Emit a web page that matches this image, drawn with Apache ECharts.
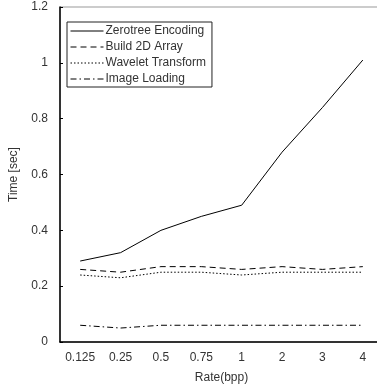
<!DOCTYPE html>
<html>
<head>
<meta charset="utf-8">
<script src="https://cdn.jsdelivr.net/npm/echarts@6/dist/echarts.min.js"></script>
<style>
  html, body { margin: 0; padding: 0; background: #fff; }
  #chart { width: 377px; height: 386px; }
</style>
</head>
<body>
<div id="chart"></div>
<script>
// 데이터
const rates = ["0.125", "0.25", "0.5", "0.75", "1", "2", "3", "4"]
const zerotree = [0.29, 0.32, 0.40, 0.45, 0.49, 0.68, 0.84, 1.01]
const build2d = [0.26, 0.25, 0.27, 0.27, 0.26, 0.27, 0.26, 0.27]
const wavelet = [0.24, 0.23, 0.25, 0.25, 0.24, 0.25, 0.25, 0.25]
const imageLoading = [0.06, 0.05, 0.06, 0.06, 0.06, 0.06, 0.06, 0.06]

const font = "Liberation Sans, Arial, sans-serif"
const chart = echarts.init(document.getElementById("chart"))

const mkLine = (name, data, dash) => ({
  name,
  type: "line",
  data,
  symbol: "none",
  animation: false,
  lineStyle: { color: "#000", width: 1, type: dash },
  itemStyle: { color: "#000" },
})

chart.setOption({
  animation: false,
  textStyle: { fontFamily: font },
  grid: {
    left: 60,
    top: 7,
    width: 323,
    height: 335,
    outerBoundsMode: "none",
    show: true,
    borderColor: "#999",
    borderWidth: 1,
  },
  legend: {
    orient: "vertical",
    left: 67,
    top: 22,
    padding: [3, 6, 2, 3],
    itemGap: 4,
    itemWidth: 33,
    itemHeight: 12,
    itemStyle: { opacity: 0 },
    lineStyle: { width: 1 },
    borderColor: "#222",
    borderWidth: 1,
    borderRadius: 0,
    textStyle: { fontSize: 12, color: "#333", fontFamily: font, padding: [0, 0, 0, -3] },
  },
  xAxis: {
    type: "category",
    data: rates,
    name: "Rate(bpp)",
    nameLocation: "middle",
    nameGap: 30,
    nameTextStyle: { fontSize: 12, color: "#333" },
    axisLine: { lineStyle: { color: "#000", width: 1.5 } },
    axisTick: { inside: true, length: 4, lineStyle: { color: "#000" } },
    axisLabel: { fontSize: 12, color: "#333", margin: 10 },
  },
  yAxis: {
    type: "value",
    min: 0,
    max: 1.2,
    interval: 0.2,
    name: "Time [sec]",
    nameLocation: "middle",
    nameGap: 40,
    nameTextStyle: { fontSize: 12, color: "#333" },
    axisLine: { show: true, lineStyle: { color: "#000", width: 1.5 } },
    axisTick: { show: true, inside: true, length: 3, lineStyle: { color: "#000" } },
    axisLabel: { fontSize: 12, color: "#333", margin: 12 },
    splitLine: { show: false },
  },
  series: [
    mkLine("Zerotree Encoding", zerotree, "solid"),
    mkLine("Build 2D Array", build2d, [6, 4]),
    mkLine("Wavelet Transform", wavelet, [1.5, 2]),
    mkLine("Image Loading", imageLoading, [6, 3, 1.5, 3]),
  ],
})
</script>
</body>
</html>
